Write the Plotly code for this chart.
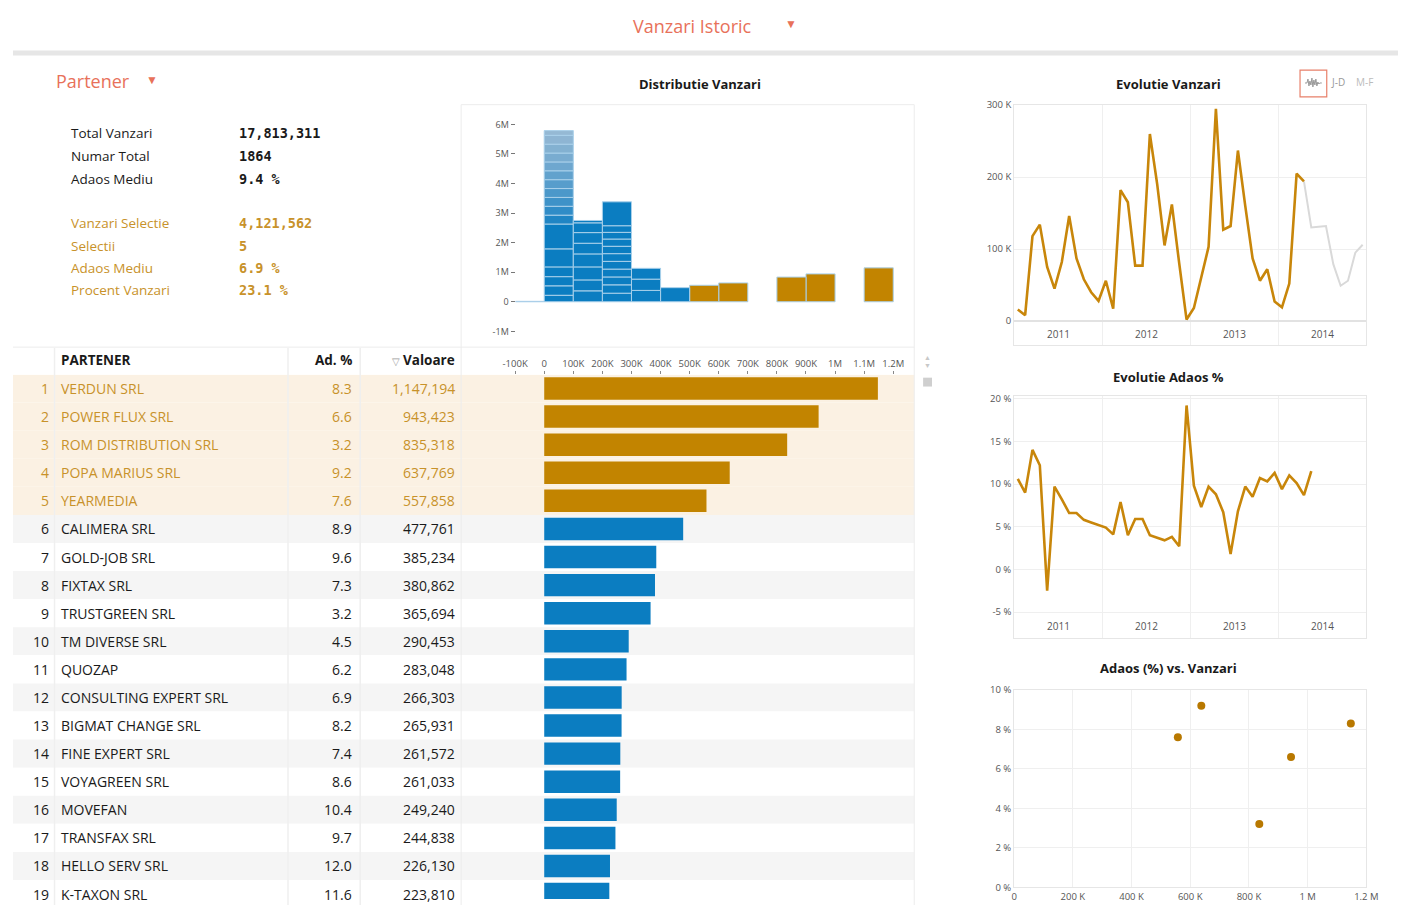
import plotly.graph_objects as go

# page has an 8px body margin: figure = 1400x897 placed at (8, 8); coordinates below are viewport pixels
OFF = 8
W, H = 1400, 897
def fx(p): return (p - OFF) / W
def fy(p): return 1 - (p - OFF) / H

# ---------------- data ----------------
partners = ["VERDUN SRL", "POWER FLUX SRL", "ROM DISTRIBUTION SRL", "POPA MARIUS SRL", "YEARMEDIA",
            "CALIMERA SRL", "GOLD-JOB SRL", "FIXTAX SRL", "TRUSTGREEN SRL", "TM DIVERSE SRL", "QUOZAP",
            "CONSULTING EXPERT SRL", "BIGMAT CHANGE SRL", "FINE EXPERT SRL", "VOYAGREEN SRL", "MOVEFAN",
            "TRANSFAX SRL", "HELLO SERV SRL", "K-TAXON SRL"]
adaos_pct = [8.3, 6.6, 3.2, 9.2, 7.6, 8.9, 9.6, 7.3, 3.2, 4.5, 6.2, 6.9, 8.2, 7.4, 8.6, 10.4, 9.7, 12.0, 11.6]
valoare = [1147194, 943423, 835318, 637769, 557858, 477761, 385234, 380862, 365694, 290453, 283048,
           266303, 265931, 261572, 261033, 249240, 244838, 226130, 223810]
n_selected = 5

stat_labels = ["Total Vanzari", "Numar Total", "Adaos Mediu"]
stat_values = ["17,813,311", "1864", "9.4 %"]
sel_labels = ["Vanzari Selectie", "Selectii", "Adaos Mediu", "Procent Vanzari"]
sel_values = ["4,121,562", "5", "6.9 %", "23.1 %"]

years = ["2011", "2012", "2013", "2014"]
# monthly sales Jan 2011 .. Dec 2014
vanzari_lunar = [16000, 8000, 118000, 134000, 75000, 45000, 82000, 146000, 87000, 58000, 40000, 28000,
                 56000, 17000, 182000, 165000, 77000, 77000, 260000, 190000, 105000, 162000, 80000, 2000,
                 18000, 59000, 103000, 295000, 127000, 132000, 237000, 160000, 87000, 56000, 72000, 27000,
                 19000, 52000, 205000, 194000, 130000, 131000, 132000, 79000, 49000, 56000, 95000, 106000]
last_actual = 39  # last month drawn in gold
# monthly margin % Jan 2011 .. May 2014
adaos_lunar = [10.6, 9.0, 14.0, 12.2, -2.5, 9.7, 8.2, 6.6, 6.6, 5.8, 5.5, 5.2,
               4.9, 4.1, 7.9, 4.0, 5.9, 5.9, 4.0, 3.7, 3.4, 3.8, 2.7, 19.2,
               9.8, 7.3, 9.7, 8.8, 6.7, 1.8, 6.8, 9.7, 8.5, 10.7, 10.3, 11.3,
               9.4, 11.0, 10.1, 8.7, 11.5]

# histogram (Distributie Vanzari): bins of 100K; segments of partners not listed in the table
hist_bin_width = 100000
hist_negative_bin = [15000]                      # bin -100K..0
hist_other_0_100k = [220000, 320000, 310000, 330000, 610000, 840000, 300000, 300000, 300000,
                     300000, 300000, 300000, 300000, 300000, 300000, 300000, 160000]
hist_other_100_200k = [370000, 370000, 440000, 440000, 360000, 360000, 330000, 80000]
hist_other_200_300k = [808000]

# ---------------- colours ----------------
GOLD = "#C28400"
GOLD_TXT = "#C8922A"
BLUE = "#0B7DC1"
SALMON = "#E8715A"
FONT = "Open Sans"
TXT = "#1a1a1a"

fig = go.Figure()

# ---- histogram segments ----
segments = {}  # bin start -> list of (height, kind)
segments[-100000] = [(v, "neg") for v in hist_negative_bin]
segments[0] = [(v, "small") for v in hist_other_0_100k]
segments[100000] = [(v, "blue") for v in hist_other_100_200k]
segments[200000] = []
for i, v in enumerate(valoare):
    b = (v // hist_bin_width) * hist_bin_width
    segments.setdefault(b, []).append((v, "gold" if i < n_selected else "blue"))
segments[200000] += [(v, "blue") for v in hist_other_200_300k]

total0 = sum(hist_other_0_100k)
solid0 = sum(hist_other_0_100k[:6])

def lerp(c1, c2, t):
    t = max(0.0, min(1.0, t))
    return "rgb(%d,%d,%d)" % tuple(round(a + (b - a) * t) for a, b in zip(c1, c2))

hx, hy, hb, hc = [], [], [], []
for b, segs in segments.items():
    base = 0
    for v, kind in segs:
        hx.append(b + hist_bin_width / 2)
        hy.append(v)
        hb.append(base)
        if kind == "gold":
            hc.append(GOLD)
        elif kind == "neg":
            hc.append("#9d8fb8")
        elif kind == "small":
            mid = base + v / 2
            t = (mid - solid0) / (total0 - solid0)
            hc.append(BLUE if mid < solid0 else lerp((20, 128, 195), (152, 186, 212), t ** 0.8))
        else:
            hc.append(BLUE)
        base += v

fig.add_trace(go.Bar(x=hx, y=hy, base=hb, width=hist_bin_width, marker=dict(color=hc, line=dict(color="#a9d0ea", width=1)),
                     xaxis="x", yaxis="y", hoverinfo="skip"))

# ---- horizontal bars ----
ranks = list(range(1, len(partners) + 1))
fig.add_trace(go.Bar(x=valoare, y=ranks, orientation="h", width=0.8,
                     marker=dict(color=[GOLD if i < n_selected else BLUE for i in range(len(valoare))], line=dict(width=0)),
                     xaxis="x2", yaxis="y2", hoverinfo="skip"))

# ---- Evolutie Vanzari ----
months = [m + 0.5 for m in range(len(vanzari_lunar))]
fig.add_trace(go.Scatter(x=months[last_actual:], y=vanzari_lunar[last_actual:], mode="lines",
                         line=dict(color="#d9d9d9", width=2), xaxis="x3", yaxis="y3", hoverinfo="skip"))
fig.add_trace(go.Scatter(x=months[:last_actual + 1], y=vanzari_lunar[:last_actual + 1], mode="lines",
                         line=dict(color="#C8860A", width=2.6), xaxis="x3", yaxis="y3", hoverinfo="skip"))

# ---- Evolutie Adaos ----
fig.add_trace(go.Scatter(x=[m + 0.5 for m in range(len(adaos_lunar))], y=adaos_lunar, mode="lines",
                         line=dict(color="#C8860A", width=2.6), xaxis="x4", yaxis="y4", hoverinfo="skip"))

# ---- Scatter ----
fig.add_trace(go.Scatter(x=valoare[:n_selected], y=adaos_pct[:n_selected], mode="markers",
                         marker=dict(color="#B87800", size=8), xaxis="x5", yaxis="y5", hoverinfo="skip"))

# ---------------- axes ----------------
S = 294 / 1e6  # px per unit on the value axes
def vrange(p0, p1, zero_px=547):
    return [(p0 - zero_px) / S, (p1 - zero_px) / S]

tickfont = dict(family=FONT, size=9.5, color="#555")
grid = "#efefef"

hist_ticks = [-1e6, 0, 1e6, 2e6, 3e6, 4e6, 5e6, 6e6]
bar_ticks = [-100000] + [k * 100000 for k in range(0, 13)]
bar_ticktext = ["-100K", "0", "100K", "200K", "300K", "400K", "500K", "600K", "700K", "800K", "900K", "1M", "1.1M", "1.2M"]

layout = dict(
    width=W, height=H, margin=dict(l=0, r=0, t=0, b=0), autosize=False,
    paper_bgcolor="white", plot_bgcolor="rgba(0,0,0,0)", showlegend=False, barmode="overlay",
    font=dict(family=FONT, color=TXT),
    xaxis=dict(domain=[fx(518), fx(921)], range=vrange(518, 921), showticklabels=False, showgrid=False,
               zeroline=False, anchor="y", fixedrange=True),
    yaxis=dict(domain=[fy(345), fy(99)], range=[-(345 - 299) / 30 * 1e6, (299 - 99) / 30 * 1e6],
               tickvals=hist_ticks, ticktext=["-1M", "0", "1M", "2M", "3M", "4M", "5M", "6M"],
               ticks="outside", ticklen=4, tickcolor="#777", tickfont=dict(family=FONT, size=9, color="#555"),
               showgrid=False, zeroline=False, anchor="x"),
    xaxis2=dict(domain=[fx(463), fx(921)], range=vrange(463, 921), side="top", tickvals=bar_ticks,
                ticktext=bar_ticktext, ticks="outside", ticklen=3, tickcolor="#888", tickfont=tickfont,
                showgrid=False, zeroline=False, anchor="y2"),
    yaxis2=dict(domain=[0, fy(373)], range=[(905 - 387) / 28.5 + 1, (373 - 387) / 28.5 + 1], visible=False,
                anchor="x2"),
    xaxis3=dict(domain=[fx(1022), fx(1378)], range=[0, 48], tickvals=[0, 12, 24, 36, 48], showticklabels=False,
                showgrid=True, gridcolor=grid, showline=True, linecolor="#e6e6e6", mirror=True, zeroline=False,
                anchor="y3"),
    yaxis3=dict(domain=[fy(343), fy(99)], range=[-(343 - 318.5) / 73 * 1e5, (318.5 - 99) / 73 * 1e5],
                tickvals=[0, 100000, 200000, 300000], ticktext=["0", "100 K", "200 K", "300 K"], tickfont=tickfont,
                showgrid=True, gridcolor=grid, showline=True, linecolor="#e6e6e6", mirror=True, zeroline=True,
                zerolinecolor="#e2e2e2", zerolinewidth=2, anchor="x3"),
    xaxis4=dict(domain=[fx(1022), fx(1378)], range=[0, 48], tickvals=[0, 12, 24, 36, 48], showticklabels=False,
                showgrid=True, gridcolor=grid, showline=True, linecolor="#e6e6e6", mirror=True, zeroline=False,
                anchor="y4"),
    yaxis4=dict(domain=[fy(640), fy(395)], range=[-(640 - 570.5) / 8.66, (570.5 - 395) / 8.66],
                tickvals=[-5, 0, 5, 10, 15, 20], ticktext=["-5 %", "0 %", "5 %", "10 %", "15 %", "20 %"],
                tickfont=tickfont, showgrid=True, gridcolor=grid, showline=True, linecolor="#e6e6e6", mirror=True,
                zeroline=False, anchor="x4"),
    xaxis5=dict(domain=[fx(1022), fx(1378)], range=[0, 1.2e6], tickvals=[0, 2e5, 4e5, 6e5, 8e5, 1e6, 1.2e6],
                ticktext=["0", "200 K", "400 K", "600 K", "800 K", "1 M", "1.2 M"], tickfont=tickfont,
                showgrid=True, gridcolor=grid, showline=True, linecolor="#e6e6e6", mirror=True, zeroline=False,
                anchor="y5"),
    yaxis5=dict(domain=[fy(893), fy(693)], range=[0, 10], tickvals=[0, 2, 4, 6, 8, 10],
                ticktext=["0 %", "2 %", "4 %", "6 %", "8 %", "10 %"], tickfont=tickfont, showgrid=True,
                gridcolor=grid, showline=True, linecolor="#e6e6e6", mirror=True, zeroline=False, anchor="x5"),
)

shapes = []
ann = []

def line(x0, y0, x1, y1, color="#ececec", width=1, layer="above"):
    shapes.append(dict(type="line", xref="paper", yref="paper", x0=fx(x0), y0=fy(y0), x1=fx(x1), y1=fy(y1),
                       line=dict(color=color, width=width), layer=layer))

# header band
shapes.append(dict(type="rect", xref="paper", yref="paper", x0=fx(10), x1=fx(1410), y0=fy(49), y1=fy(44),
                   fillcolor="#e6e6e6", line=dict(width=0)))

# table row backgrounds
for r in ranks:
    if r <= n_selected:
        col = "#FBF1E3"
    elif r % 2 == 0:
        col = "#F5F5F5"
    else:
        col = "white"
    shapes.append(dict(type="rect", xref="paper", yref="y2", x0=fx(10), x1=fx(921), y0=r - 0.5, y1=r + 0.5,
                       fillcolor=col, line=dict(width=0), layer="below"))

# frames / separators
line(463, 99, 921, 99)
line(463, 99, 463, 913)
line(921, 99, 921, 913)
line(10, 345, 921, 345)
for xsep in (52, 288, 361):
    line(xsep, 346, xsep, 913, color="#efefef", width=1.5)

# scroll widget
ann.append(dict(x=fx(934.5), y=fy(356), text="▲", showarrow=False, font=dict(size=7, color="#c8c8c8"),
                xref="paper", yref="paper"))
ann.append(dict(x=fx(934.5), y=fy(364), text="▼", showarrow=False, font=dict(size=7, color="#c8c8c8"),
                xref="paper", yref="paper"))
shapes.append(dict(type="rect", xref="paper", yref="paper", x0=fx(930), x1=fx(939), y0=fy(385), y1=fy(376),
                   fillcolor="#cfcfcf", line=dict(width=0)))

# icon box (top right)
shapes.append(dict(type="rect", xref="paper", yref="paper", x0=fx(1311), x1=fx(1338), y0=fy(91), y1=fy(64),
                   fillcolor="white", line=dict(color="#E8806A", width=1.2), layer="below"))
wave = [(1316, 77), (1318, 77), (1319, 73), (1320, 80), (1321, 75), (1322, 79), (1323, 72), (1324, 81),
        (1325, 74), (1326, 79), (1327, 73), (1328, 80), (1329, 76), (1330, 78), (1331, 77), (1333, 77)]
path = "M " + " L ".join(f"{fx(px):.5f},{fy(py):.5f}" for px, py in wave)
shapes.append(dict(type="path", xref="paper", yref="paper", path=path, line=dict(color="#999", width=1)))

# titles
def text(x, y, s, size=14, color=TXT, anchor="center", family=FONT, yref="paper", xref="paper", weight=None):
    f = dict(size=size, color=color, family=family)
    if weight:
        f["weight"] = weight
    ann.append(dict(x=x, y=y, text=s, showarrow=False, xanchor=anchor, yanchor="middle", xref=xref, yref=yref,
                    font=f))

text(fx(1349), fy(76), "J-D", size=10, color="#999")
text(fx(1376), fy(76), "M-F", size=10, color="#bbb")
text(fx(697), fy(19), "Vanzari Istoric", size=18, color=SALMON)
text(fx(796), fy(17), "▼", size=12, color=SALMON)
text(fx(51), fy(75), "Partener", size=18, color=SALMON, anchor="left")
text(fx(151), fy(73), "▼", size=12, color=SALMON)
text(fx(704), fy(78), "<b>Distributie Vanzari</b>", size=13)
text(fx(1178), fy(78), "<b>Evolutie Vanzari</b>", size=13)
text(fx(1178), fy(375), "<b>Evolutie Adaos %</b>", size=13)
text(fx(1178), fy(671), "<b>Adaos (%) vs. Vanzari</b>", size=13)

# stats block
for i, (lab, val) in enumerate(zip(stat_labels, stat_values)):
    yy = [128, 151, 174][i]
    text(fx(67), fy(yy), lab, size=13.5, anchor="left", weight=500)
    text(fx(236), fy(yy), "<b>" + val + "</b>", size=13.5, anchor="left", family="DejaVu Sans Mono")
for i, (lab, val) in enumerate(zip(sel_labels, sel_values)):
    yy = [219, 242, 265, 287][i]
    text(fx(67), fy(yy), lab, size=13.5, anchor="left", color=GOLD_TXT, weight=500)
    text(fx(236), fy(yy), "<b>" + val + "</b>", size=13.5, anchor="left", color=GOLD_TXT, family="DejaVu Sans Mono")

# table header
text(fx(57), fy(358), "<b>PARTENER</b>", size=13.5, anchor="left")
text(fx(355), fy(358), "<b>Ad. %</b>", size=13.5, anchor="right")
text(fx(459), fy(358), "<b>Valoare</b>", size=13.5, anchor="right")
text(fx(397), fy(359), "▽", size=10, color="#999")

# table rows
for i, r in enumerate(ranks):
    col = GOLD_TXT if i < n_selected else TXT
    text(fx(48), r, str(r), size=14, color=col, anchor="right", yref="y2", weight=500)
    text(fx(57), r, partners[i], size=14, color=col, anchor="left", yref="y2", weight=500)
    text(fx(355), r, f"{adaos_pct[i]:.1f}", size=14, color=col, anchor="right", yref="y2", weight=500)
    text(fx(459), r, f"{valoare[i]:,}", size=14, color=col, anchor="right", yref="y2", weight=500)

# year labels
for k, yr in enumerate(years):
    text(12 * k + 6, fy(332), yr, size=10, color="#555", xref="x3")
    text(12 * k + 6, fy(628), yr, size=10, color="#555", xref="x4")

layout["shapes"] = shapes
layout["annotations"] = ann
fig.update_layout(**layout)
fig.write_html("out.html", config={"displayModeBar": False})
